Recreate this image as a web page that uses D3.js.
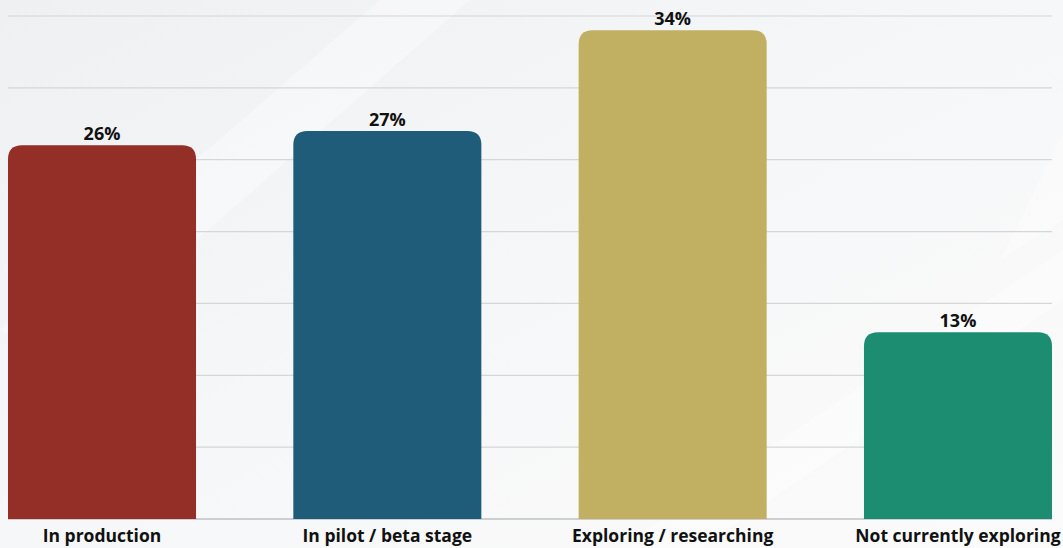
<!DOCTYPE html>
<html>
<head>
<meta charset="utf-8">
<script src="https://cdn.jsdelivr.net/npm/d3@7"></script>
<style>
  html, body { margin: 0; padding: 0; background: #f4f5f6; }
  svg { display: block; }
</style>
</head>
<body>
<svg id="chart" width="1063" height="548"></svg>
<script>
// Adoption stage shares (percent of respondents)
const categories = ["In production", "In pilot / beta stage", "Exploring / researching", "Not currently exploring"];
const values = [26, 27, 34, 13];
const colors = ["#942f27", "#1f5c7a", "#c1b062", "#1d8d71"];
const gridTicks = [0, 5, 10, 15, 20, 25, 30, 35];

const W = 1063, H = 548;
const margin = { left: 8, right: 11, top: 16, bottom: 29 };

const svg = d3.select("#chart");

// Soft backdrop with faint light streaks
const defs = svg.append("defs");
const bg = defs.append("linearGradient").attr("id", "bg")
  .attr("x1", "0").attr("y1", "0").attr("x2", "1").attr("y2", "1");
bg.append("stop").attr("offset", "0").attr("stop-color", "#eff0f2");
bg.append("stop").attr("offset", "0.5").attr("stop-color", "#f6f7f8");
bg.append("stop").attr("offset", "1").attr("stop-color", "#fbfbfb");
svg.append("rect").attr("width", W).attr("height", H).attr("fill", "url(#bg)");

const streaks = [
  [[0, 330], [380, 0], [470, 0], [60, 360]],
  [[1130, 0], [1280, 0], [1063, 220], [1000, 260]],
  [[620, 548], [700, 548], [1063, 300], [1063, 250]]
];
svg.append("g").selectAll("path").data(streaks).join("path")
  .attr("d", d => "M" + d.join("L") + "Z")
  .attr("fill", "#ffffff").attr("opacity", 0.35);

const x = d3.scaleBand()
  .domain(categories)
  .range([margin.left, 1052])
  .paddingInner(0.341)
  .paddingOuter(0);

const y = d3.scaleLinear()
  .domain([0, 35])
  .range([H - margin.bottom, margin.top]);

// Horizontal gridlines
svg.append("g").selectAll("line").data(gridTicks).join("line")
  .attr("x1", margin.left).attr("x2", 1052)
  .attr("y1", d => y(d)).attr("y2", d => y(d))
  .attr("stroke", d => d === 0 ? "#bfc0c2" : "#d5d6d8")
  .attr("stroke-width", d => d === 0 ? 1.6 : 1.2);

// Bars with rounded tops
const r = 14;
function barPath(x0, w, yTop, yBase) {
  return `M${x0},${yBase}V${yTop + r}Q${x0},${yTop} ${x0 + r},${yTop}` +
         `H${x0 + w - r}Q${x0 + w},${yTop} ${x0 + w},${yTop + r}V${yBase}Z`;
}
svg.append("g").selectAll("path").data(categories).join("path")
  .attr("d", (c, i) => barPath(x(c), x.bandwidth(), y(values[i]), y(0)))
  .attr("fill", (c, i) => colors[i]);

// Value labels
svg.append("g").selectAll("text").data(categories).join("text")
  .attr("x", c => x(c) + x.bandwidth() / 2)
  .attr("y", (c, i) => y(values[i]) - 5)
  .attr("text-anchor", "middle")
  .attr("font-family", "'Open Sans', sans-serif")
  .attr("font-weight", 700)
  .attr("font-size", 18)
  .attr("fill", "#111")
  .text((c, i) => values[i] + "%");

// Category labels
svg.append("g").selectAll("text").data(categories).join("text")
  .attr("x", c => x(c) + x.bandwidth() / 2)
  .attr("y", 542)
  .attr("text-anchor", "middle")
  .attr("font-family", "'Open Sans', sans-serif")
  .attr("font-weight", 700)
  .attr("font-size", 17.5)
  .attr("fill", "#111")
  .text(c => c);
</script>
</body>
</html>
